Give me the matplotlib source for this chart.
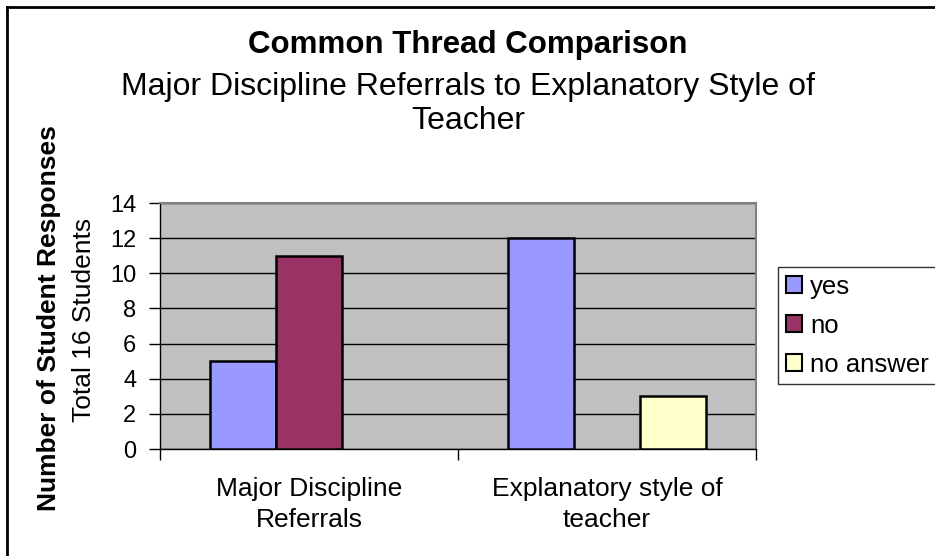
import matplotlib
matplotlib.use("Agg")
import matplotlib.pyplot as plt
from matplotlib.lines import Line2D
from matplotlib.patches import Patch
import numpy as np

plt.rcParams["font.family"] = ["Liberation Sans", "DejaVu Sans"]

categories = ["Major Discipline\nReferrals", "Explanatory style of\nteacher"]
series = ["yes", "no", "no answer"]
yes_vals = [5, 12]
no_vals = [11, 0]
noans_vals = [0, 3]
colors = ["#9999FF", "#993366", "#FFFFCC"]
yticks = [0, 2, 4, 6, 8, 10, 12, 14]

W, H = 935, 556
fig = plt.figure(figsize=(W / 100, H / 100), dpi=100)

# plot area in pixel coords
L, R, T, B = 160, 756, 203, 449
ax = fig.add_axes([L / W, 1 - B / H, (R - L) / W, (B - T) / H])
ax.set_facecolor("#C0C0C0")

x = np.arange(len(categories))
w = 0.222
for i, (vals, c) in enumerate(zip([yes_vals, no_vals, noans_vals], colors)):
    for xi, v in zip(x, vals):
        if v > 0:
            ax.bar(xi + (i - 1) * w, v, w, color=c, edgecolor="black",
                   linewidth=1.8, zorder=3)

ax.set_xlim(-0.5, 1.5)
ax.set_ylim(0, 14)
ax.set_yticks(yticks)
ax.set_yticklabels([str(t) for t in yticks], fontsize=17)
ax.yaxis.grid(True, color="black", linewidth=1.0, zorder=1)
ax.set_axisbelow(True)
ax.tick_params(axis="y", direction="out", length=8, width=1, pad=9)

# category ticks at boundaries, labels at centres
ax.set_xticks([-0.5, 0.5, 1.5])
ax.set_xticklabels([])
ax.tick_params(axis="x", direction="out", length=8, width=1)
ax.set_xticks(x, minor=True)
ax.set_xticklabels(categories, minor=True, fontsize=19, linespacing=1.4)
ax.tick_params(axis="x", which="minor", length=0, pad=20)

for s in ["top", "right"]:
    ax.spines[s].set_color("#808080")
    ax.spines[s].set_linewidth(1.5)
for s in ["left", "bottom"]:
    ax.spines[s].set_color("black")
    ax.spines[s].set_linewidth(1.0)

# titles
fig.text(468 / W, 1 - 45 / H, "Common Thread Comparison", ha="center",
         va="center", fontsize=22.5, fontweight="bold")
fig.text(468 / W, 1 - 104 / H,
         "Major Discipline Referrals to Explanatory Style of\nTeacher",
         ha="center", va="center", fontsize=23, linespacing=1.2)

# axis titles
fig.text(49 / W, 1 - 318 / H, "Number of Student Responses", rotation=90,
         ha="center", va="center", fontsize=19, fontweight="bold")
fig.text(84 / W, 1 - 320 / H, "Total 16 Students", rotation=90,
         ha="center", va="center", fontsize=19)

# legend
handles = [Patch(facecolor=c, edgecolor="black", linewidth=1.5) for c in colors]
leg = fig.legend(handles, series, loc="upper left",
                 bbox_to_anchor=(778 / W, 1 - 267 / H), fontsize=18.5,
                 frameon=True, fancybox=False, handlelength=0.65,
                 handleheight=0.65, handletextpad=0.3, labelspacing=0.58,
                 borderpad=0.3, borderaxespad=0)
leg.get_frame().set_edgecolor("black")
leg.get_frame().set_linewidth(1.0)

# chart border (only top/left visible in the crop)
fig.add_artist(Line2D([7 / W, 7 / W], [0, 1 - 7 / H], color="black",
                      linewidth=2, transform=fig.transFigure))
fig.add_artist(Line2D([7 / W, 1], [1 - 7 / H, 1 - 7 / H], color="black",
                      linewidth=2, transform=fig.transFigure))

fig.savefig("out.png", dpi=100)
